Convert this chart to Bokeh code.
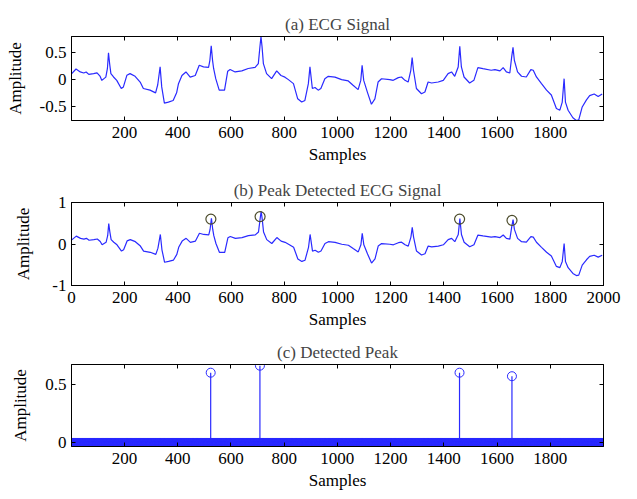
import numpy as np
from bokeh.plotting import figure
from bokeh.layouts import column
from bokeh.models import LinearAxis, FixedTicker, Range1d, PrintfTickFormatter
from bokeh.embed import file_html
from bokeh.resources import INLINE

# ECG signal (sample index, amplitude)
samples = [1, 18, 34, 47, 56, 66, 84, 97, 108, 115, 130, 136, 140, 144, 149, 159, 171, 188, 196, 209,
           221, 240, 259, 271, 296, 317, 325, 334, 340, 350, 365, 383, 396, 403, 416, 431, 447, 466, 481, 497,
           516, 521, 526, 531, 535, 543, 556, 576, 588, 597, 616, 641, 665, 691, 703, 709, 713, 717, 722, 734,
           753, 772, 788, 803, 816, 835, 851, 866, 878, 891, 897, 906, 916, 928, 938, 953, 966, 991, 1016, 1041,
           1059, 1078, 1088, 1093, 1099, 1113, 1128, 1141, 1153, 1166, 1197, 1210, 1229, 1241, 1254, 1266, 1276, 1281, 1286, 1297,
           1316, 1329, 1341, 1354, 1379, 1398, 1416, 1429, 1441, 1454, 1460, 1466, 1476, 1497, 1513, 1528, 1547, 1578, 1592, 1611,
           1623, 1635, 1648, 1655, 1660, 1665, 1677, 1692, 1710, 1727, 1736, 1748, 1767, 1786, 1804, 1823, 1836, 1845, 1852, 1857,
           1867, 1885, 1898, 1907, 1920, 1936, 1948, 1965, 1980, 1995]
amplitude = [0.10, 0.19, 0.136, 0.117, 0.136, 0.09, 0.105, 0.12, 0.06, -0.02, 0.04, 0.2, 0.49, 0.3, 0.105, 0.043, -0.02, -0.17, -0.14, 0.074,
             0.105, 0.056, -0.05, -0.17, -0.2, -0.25, -0.1, 0.23, -0.14, -0.44, -0.42, -0.39, -0.25, -0.08, 0.07, 0.136, 0.04, 0.07, 0.26, 0.23,
             0.22, 0.35, 0.62, 0.35, 0.2, 0.012, -0.2, -0.2, 0.15, 0.18, 0.136, 0.155, 0.2, 0.22, 0.29, 0.6, 0.79, 0.6, 0.29, 0.105,
             0.012, 0.155, 0.07, 0.04, -0.006, -0.08, -0.36, -0.42, -0.39, -0.08, 0.23, -0.17, -0.15, -0.2, -0.17, 0.01, 0.055, 0.04, -0.006, -0.03,
             -0.11, -0.19, -0.02, 0.26, -0.02, -0.24, -0.46, -0.36, -0.05, 0.01, -0.006, -0.019, 0.031, 0.043, -0.019, -0.05, 0.167, 0.40, 0.167, -0.17,
             -0.266, -0.235, -0.05, -0.068, -0.05, -0.019, 0.105, 0.136, 0.056, 0.228, 0.61, 0.228, 0.043, -0.068, -0.019, 0.216, 0.197, 0.167, 0.179, 0.155,
             0.216, 0.136, 0.117, 0.413, 0.59, 0.352, 0.136, 0.056, 0.043, 0.179, 0.167, 0.043, -0.08, -0.2, -0.29, -0.54, -0.57, -0.42, 0.012, -0.42,
             -0.57, -0.71, -0.76, -0.75, -0.51, -0.38, -0.30, -0.27, -0.316, -0.27]

# detected peaks
peak_samples = [524, 709, 1459, 1656]
peak_values = [0.60, 0.66, 0.60, 0.57]
n_samples = 2000

titles = ["(a) ECG Signal", "(b) Peak Detected ECG Signal", "(c) Detected Peak"]
x_label = "Samples"
y_label = "Amplitude"
x_ticks_a = [200, 400, 600, 800, 1000, 1200, 1400, 1600, 1800]
x_ticks_b = [0, 200, 400, 600, 800, 1000, 1200, 1400, 1600, 1800, 2000]
y_ticks_a = [-0.5, 0, 0.5]
y_ticks_b = [-1, 0, 1]
y_ticks_c = [0, 0.5]

FONT = "Liberation Serif"
FS = "17px"
BLUE = "#2a2aff"


def style(ax):
    ax.axis_line_color = "black"
    ax.major_tick_line_color = "black"
    ax.major_tick_in = 4
    ax.major_tick_out = 0
    ax.minor_tick_line_color = None
    ax.major_label_text_font = FONT
    ax.major_label_text_font_size = FS
    ax.major_label_text_color = "black"
    ax.axis_label_text_font = FONT
    ax.axis_label_text_font_size = FS
    ax.axis_label_text_font_style = "normal"
    ax.axis_label_text_color = "black"


def make_fig(h, top, bottom, xr, yr, xt, yt, title, ystand):
    p = figure(width=637, height=h, x_range=Range1d(*xr), y_range=Range1d(*yr),
               output_backend="svg", toolbar_location=None, title=title,
               min_border_left=71, min_border_right=34, min_border_top=top, min_border_bottom=bottom)
    p.title.align = "center"
    p.title.text_font = FONT
    p.title.text_font_size = FS
    p.title.text_font_style = "normal"
    p.title.standoff = 6
    p.outline_line_color = "black"
    p.outline_line_alpha = 1
    p.xgrid.grid_line_color = None
    p.ygrid.grid_line_color = None
    p.background_fill_color = "white"
    p.border_fill_color = "white"
    xa = p.xaxis[0]
    ya = p.yaxis[0]
    xa.ticker = FixedTicker(ticks=xt)
    ya.ticker = FixedTicker(ticks=yt)
    ya.formatter = PrintfTickFormatter(format="%g")
    xa.axis_label = x_label
    ya.axis_label = y_label
    style(xa)
    style(ya)
    xa.major_label_standoff = 6
    xa.axis_label_standoff = 4
    ya.major_label_standoff = 5
    ya.axis_label_standoff = ystand
    # tick marks only (no labels) on the top and right edges of the box
    for loc, tk in (("above", xt), ("right", yt)):
        ax = LinearAxis(ticker=FixedTicker(ticks=[], minor_ticks=tk))
        ax.axis_line_color = "black"
        ax.major_tick_line_color = None
        ax.minor_tick_line_color = "black"
        ax.minor_tick_in = 4
        ax.minor_tick_out = 0
        ax.major_label_standoff = 0
        p.add_layout(ax, loc)
    return p


p1 = make_fig(170, 36, 50, (1, 2000), (-0.76, 0.79), x_ticks_a, y_ticks_a, titles[0], 12)
p1.line(samples, amplitude, line_color=BLUE, line_width=1.2)

p2 = make_fig(162, 32, 47, (0, 2000), (-1, 1), x_ticks_b, y_ticks_b, titles[1], 16)
p2.line(samples, amplitude, line_color=BLUE, line_width=1.2)
p2.scatter(peak_samples, peak_values, marker="circle", size=10, fill_color=None,
           line_color="#4b4b2b", line_width=1.2)

detected = np.zeros(n_samples)
idx = np.arange(1, n_samples + 1)
for s, v in zip(peak_samples, peak_values):
    detected[s - 1] = v

p3 = make_fig(167, 32, 53, (1, 2000), (-0.03, 0.67), x_ticks_a, y_ticks_c, titles[2], 12)
p3.segment(x0=peak_samples, y0=[0] * len(peak_samples), x1=peak_samples, y1=peak_values,
           line_color=BLUE, line_width=1.2)
p3.scatter(idx, detected, marker="circle", size=9, fill_color=None, line_color=BLUE, line_width=1)

layout = column(p1, p2, p3, spacing=0)
open("out.html", "w").write(file_html(layout, INLINE))
